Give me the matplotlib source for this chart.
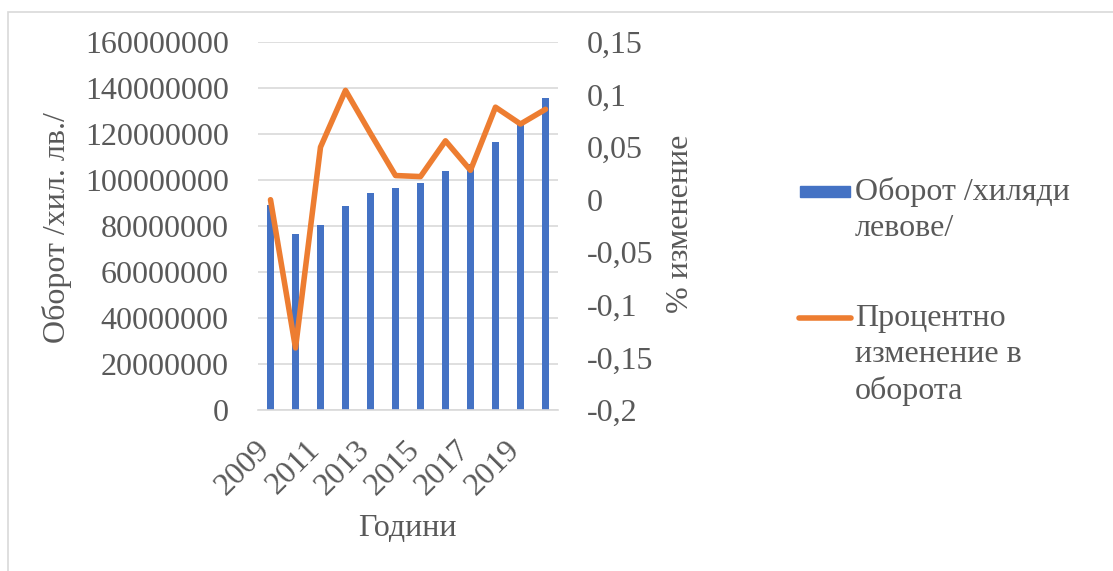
import matplotlib
matplotlib.use('Agg')
import matplotlib.pyplot as plt
from matplotlib.patches import Rectangle
from matplotlib.lines import Line2D
from matplotlib.transforms import ScaledTranslation

plt.rcParams['font.family'] = ['Liberation Serif', 'DejaVu Serif']

# data
years = list(range(2009, 2021))
turnover = [89.1e6, 76.5e6, 80.4e6, 88.8e6, 94.3e6, 96.5e6,
            98.5e6, 103.9e6, 106.8e6, 116.4e6, 124.7e6, 135.5e6]
change = [0.0, -0.141, 0.050, 0.104, 0.063, 0.023,
          0.022, 0.056, 0.028, 0.088, 0.072, 0.086]
left_ticks = [0, 20000000, 40000000, 60000000, 80000000,
              100000000, 120000000, 140000000, 160000000]
right_ticks = [-0.2, -0.15, -0.1, -0.05, 0, 0.05, 0.1, 0.15]
bar_label = 'Оборот /хиляди\nлевове/'
line_label = 'Процентно\nизменение в\nоборота'

grey = '#595959'
blue = '#4472C4'
orange = '#ED7D31'
fs = 23

W, H = 1113, 571
fig = plt.figure(figsize=(W / 100, H / 100), dpi=100)
ax = fig.add_axes([258 / W, 1 - 410 / H, 300 / W, 368 / H])

x = list(range(len(years)))
ax.bar(x, turnover, width=0.3, color=blue, zorder=2)
ax.set_xlim(-0.5, len(years) - 0.5)
ax.set_ylim(0, 160000000)
ax.set_yticks(left_ticks)
ax.set_yticklabels([str(v) for v in left_ticks])
ax.grid(axis='y', color='#D9D9D9', linewidth=1.2, zorder=0)
ax.set_axisbelow(True)
for s in ['top', 'right', 'left']:
    ax.spines[s].set_visible(False)
ax.spines['bottom'].set_color('#D9D9D9')
ax.spines['bottom'].set_linewidth(1.2)
ax.tick_params(axis='y', length=0, pad=21, labelsize=fs, labelcolor=grey)
ax.tick_params(axis='x', length=0, pad=18, labelsize=fs, labelcolor=grey)
ax.set_xticks(x[::2])
ax.set_xticklabels([str(y) for y in years[::2]], rotation=45,
                   ha='right', va='top')
shift = ScaledTranslation(5 / 100, 0, fig.dpi_scale_trans)
for lab in ax.get_xticklabels():
    lab.set_transform(lab.get_transform() + shift)

ax2 = ax.twinx()
ax2.plot(x, change, color=orange, linewidth=4,
         solid_capstyle='round', solid_joinstyle='round', zorder=3)
ax2.set_ylim(-0.2, 0.15)
ax2.set_yticks(right_ticks)
ax2.set_yticklabels([f'{v:g}'.replace('.', ',') for v in right_ticks])
ax2.tick_params(axis='y', length=0, pad=21, labelsize=fs, labelcolor=grey)
for s in ax2.spines.values():
    s.set_visible(False)

# axis titles
fig.text(407 / W, 1 - 528 / H, 'Години', fontsize=fs, color=grey,
         ha='center', va='center')
fig.text(57 / W, 1 - 228 / H, 'Оборот /хил. лв./', fontsize=fs, color=grey,
         rotation=90, ha='center', va='center')
fig.text(680 / W, 1 - 224 / H, '% изменение', fontsize=fs, color=grey,
         rotation=90, ha='center', va='center')

# legend drawn by hand so the keys sit on the first text line
fig.add_artist(Rectangle((800 / W, 1 - 197 / H), 50 / W, 11 / H,
                         transform=fig.transFigure, color=blue))
fig.add_artist(Line2D([799 / W, 851 / W], [1 - 318 / H, 1 - 318 / H],
                      transform=fig.transFigure, color=orange,
                      linewidth=4, solid_capstyle='round'))
fig.text(855 / W, 1 - 177 / H, bar_label, fontsize=fs, color=grey,
         ha='left', va='top', linespacing=1.3)
fig.text(855 / W, 1 - 304 / H, line_label, fontsize=fs, color=grey,
         ha='left', va='top', linespacing=1.3)

# light chart border
fig.add_artist(Rectangle((7.5 / W, -0.1), 1.2, 1 - 11.5 / H + 0.1,
                         transform=fig.transFigure, fill=False,
                         edgecolor='#D9D9D9', linewidth=1.2))

fig.savefig('out.png', dpi=100)
